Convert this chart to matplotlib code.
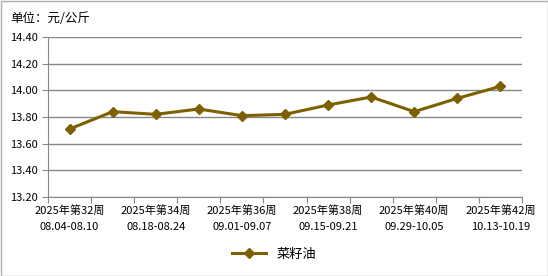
import matplotlib
matplotlib.use("Agg")
import matplotlib.pyplot as plt
from matplotlib.ticker import FixedLocator, NullFormatter, FixedFormatter
from matplotlib.patches import Rectangle

plt.rcParams['font.family'] = ['Noto Sans CJK SC', 'DejaVu Sans']

weeks = ["2025年第32周", "2025年第33周", "2025年第34周", "2025年第35周", "2025年第36周",
         "2025年第37周", "2025年第38周", "2025年第39周", "2025年第40周", "2025年第41周",
         "2025年第42周"]
dates = ["08.04-08.10", "08.11-08.17", "08.18-08.24", "08.25-08.31", "09.01-09.07",
         "09.08-09.14", "09.15-09.21", "09.22-09.28", "09.29-10.05", "10.06-10.12",
         "10.13-10.19"]
values = [13.71, 13.84, 13.82, 13.86, 13.81, 13.82, 13.89, 13.95, 13.84, 13.94, 14.03]
series_name = "菜籽油"
unit_label = "单位：元/公斤"
yticks = [13.20, 13.40, 13.60, 13.80, 14.00, 14.20, 14.40]

color = "#7f6000"
grid_c = "#878787"

fig = plt.figure(figsize=(5.48, 2.76), dpi=100)
ax = fig.add_axes([48/548, 1-197/276, (522-48)/548, (197-37)/276])

x = list(range(len(values)))
ax.plot(x, values, color=color, lw=2.2, marker='D', ms=5.5, label=series_name,
        markeredgecolor=color, markerfacecolor=color)

ax.set_xlim(-0.5, len(values)-0.5)
ax.set_ylim(13.20, 14.40)
ax.set_yticks(yticks)
ax.set_yticklabels([f"{v:.2f}" for v in yticks], fontsize=8)
ax.yaxis.grid(True, color=grid_c, lw=1)
ax.set_axisbelow(True)

ax.xaxis.set_major_locator(FixedLocator([i - 0.5 for i in range(len(values)+1)]))
ax.xaxis.set_major_formatter(NullFormatter())
ax.xaxis.set_minor_locator(FixedLocator(x[::2]))
ax.xaxis.set_minor_formatter(FixedFormatter([f"{weeks[i]}\n{dates[i]}" for i in x[::2]]))
ax.tick_params(axis='x', which='minor', length=0, labelsize=8, pad=6)
ax.tick_params(axis='x', which='major', length=4, color=grid_c)
ax.tick_params(axis='y', length=4, color=grid_c, labelsize=8)
for lab in ax.get_xticklabels(minor=True):
    lab.set_linespacing(1.7)

for s in ['top', 'right']:
    ax.spines[s].set_visible(False)
for s in ['left', 'bottom']:
    ax.spines[s].set_color(grid_c)

fig.text(10/548, 1-18/276, unit_label, fontsize=9, va='center', ha='left')

leg = fig.legend(loc='center', bbox_to_anchor=(0.5, 1-254/276), frameon=False,
                 fontsize=9.5, handlelength=2.6)

fig.patches.append(Rectangle((0.5/548, 0.5/276), 1-1/548, 1-1/276, transform=fig.transFigure,
                             fill=False, edgecolor="#b0b0b0", lw=1))

fig.savefig("out.png", dpi=100)
